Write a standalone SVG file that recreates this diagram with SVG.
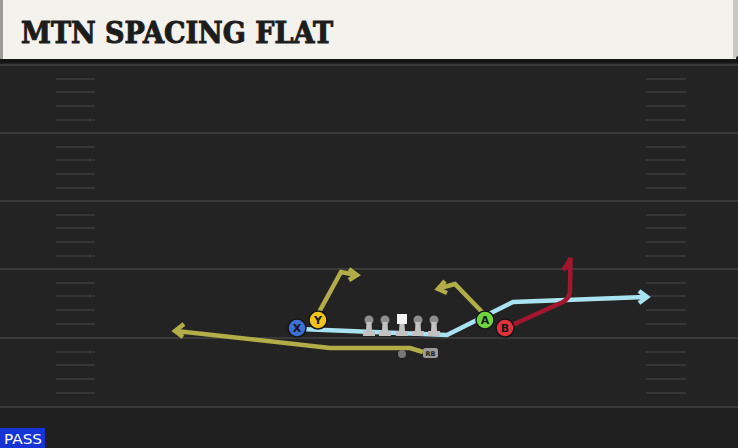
<svg xmlns="http://www.w3.org/2000/svg" width="738" height="448" viewBox="0 0 738 448">
<style>
.yd{stroke:#393939;stroke-width:2}
.hs{stroke:#363636;stroke-width:2}
.rt{fill:none;stroke-width:4.5;stroke-linejoin:miter;stroke-linecap:butt}
.ol{stroke:#b2ad48}
.lb{stroke:#a9e2f0}
.rd{stroke:#a2172f}
.pc{stroke:#161616;stroke-width:1.5}
.pl{font-family:"DejaVu Sans",sans-serif;font-weight:bold;font-size:11px;fill:#161616;text-anchor:middle}
.head{fill:#8e8e8e}
.body{fill:#c2c2c2}
</style>
<rect x="0" y="0" width="738" height="448" fill="#232323"/>
<rect x="0" y="408" width="738" height="40" fill="#202020"/>
<g id="field">
<line class="yd" x1="0" y1="65" x2="738" y2="65"/>
<line class="yd" x1="0" y1="133" x2="738" y2="133"/>
<line class="yd" x1="0" y1="201" x2="738" y2="201"/>
<line class="yd" x1="0" y1="269" x2="738" y2="269"/>
<line class="yd" x1="0" y1="338" x2="738" y2="338"/>
<line class="yd" x1="0" y1="407" x2="738" y2="407"/>
<g class="hs">
<line x1="56" y1="79" x2="95" y2="79"/><line x1="56" y1="92" x2="95" y2="92"/><line x1="56" y1="106" x2="95" y2="106"/><line x1="56" y1="120" x2="95" y2="120"/>
<line x1="56" y1="147" x2="95" y2="147"/><line x1="56" y1="160" x2="95" y2="160"/><line x1="56" y1="174" x2="95" y2="174"/><line x1="56" y1="188" x2="95" y2="188"/>
<line x1="56" y1="215" x2="95" y2="215"/><line x1="56" y1="228" x2="95" y2="228"/><line x1="56" y1="242" x2="95" y2="242"/><line x1="56" y1="256" x2="95" y2="256"/>
<line x1="56" y1="283" x2="95" y2="283"/><line x1="56" y1="296" x2="95" y2="296"/><line x1="56" y1="310" x2="95" y2="310"/><line x1="56" y1="324" x2="95" y2="324"/>
<line x1="56" y1="352" x2="95" y2="352"/><line x1="56" y1="365" x2="95" y2="365"/><line x1="56" y1="379" x2="95" y2="379"/><line x1="56" y1="393" x2="95" y2="393"/>
<line x1="646" y1="79" x2="686" y2="79"/><line x1="646" y1="92" x2="686" y2="92"/><line x1="646" y1="106" x2="686" y2="106"/><line x1="646" y1="120" x2="686" y2="120"/>
<line x1="646" y1="147" x2="686" y2="147"/><line x1="646" y1="160" x2="686" y2="160"/><line x1="646" y1="174" x2="686" y2="174"/><line x1="646" y1="188" x2="686" y2="188"/>
<line x1="646" y1="215" x2="686" y2="215"/><line x1="646" y1="228" x2="686" y2="228"/><line x1="646" y1="242" x2="686" y2="242"/><line x1="646" y1="256" x2="686" y2="256"/>
<line x1="646" y1="283" x2="686" y2="283"/><line x1="646" y1="296" x2="686" y2="296"/><line x1="646" y1="310" x2="686" y2="310"/><line x1="646" y1="324" x2="686" y2="324"/>
<line x1="646" y1="352" x2="686" y2="352"/><line x1="646" y1="365" x2="686" y2="365"/><line x1="646" y1="379" x2="686" y2="379"/><line x1="646" y1="393" x2="686" y2="393"/>
</g>
</g>
<g id="header">
<rect x="0" y="0" width="736" height="59" fill="#f4f2ec"/>
<rect x="0" y="0" width="3" height="59" fill="#9c9c9a"/>
<path d="M733 0 L738 0 L738 56 L733 59 Z" fill="#c9c7c1"/>
<rect x="0" y="59" width="738" height="4" fill="#161616"/>
<text x="21" y="43" font-family="'DejaVu Serif',serif" font-weight="bold" font-size="29" fill="#1c1c1c" stroke="#1c1c1c" stroke-width="1" textLength="312" lengthAdjust="spacingAndGlyphs">MTN SPACING FLAT</text>
</g>
<g id="connectors">
<path class="rt ol" d="M423 352 L410 348 L330 348 L176 331"/>
<path class="rt ol" d="M184 324 L175 331 L183 337"/>
<path class="rt lb" d="M300 329 L447 335 L513 302 L645 297"/>
<path class="rt lb" d="M639 291 L647 297 L639 303"/>
<path class="rt ol" d="M318 314 L341 272 L356 275"/>
<path class="rt ol" d="M349 269 L357 275 L349 280"/>
<path class="rt ol" d="M484 314 L455 284 L440 288"/>
<path class="rt ol" d="M445 281 L438 289 L447 293"/>
<path class="rt rd" d="M510 326 L563 302 Q570 298 570 290 L570.5 258 Q567 266 563 270"/>
</g>
<g id="oline">
<circle class="head" cx="369" cy="320" r="4.5"/><path class="body" d="M366.5 322 H371.5 L372 331 H375 V336 H363 V331 H366 Z"/>
<circle class="head" cx="385" cy="320" r="4.5"/><path class="body" d="M382.5 322 H387.5 L388 331 H391 V336 H379 V331 H382 Z"/>
<rect x="397" y="314" width="10" height="10" fill="#f2f2f2"/><path class="body" d="M399.5 324 H404.5 L405 331 H408 V336 H396 V331 H399 Z"/>
<circle class="head" cx="418" cy="320" r="4.5"/><path class="body" d="M415.5 322 H420.5 L421 331 H424 V336 H412 V331 H415 Z"/>
<circle class="head" cx="434" cy="320" r="4.5"/><path class="body" d="M431.5 322 H436.5 L437 331 H440 V336 H428 V331 H431 Z"/>
</g>
<g id="rb">
<circle cx="402" cy="354" r="4" fill="#777"/>
<rect x="423" y="348" width="15" height="10" rx="2.5" fill="#9a9a9a"/>
<text x="430.5" y="356" font-family="'DejaVu Sans',sans-serif" font-weight="bold" font-size="6.5" fill="#222" text-anchor="middle">RB</text>
</g>
<g id="X"><circle class="pc" cx="297" cy="328" r="9" fill="#3d6fd6"/><text class="pl" x="297" y="332">X</text></g>
<g id="Y"><circle class="pc" cx="318" cy="320" r="9" fill="#f2c21c"/><text class="pl" x="318" y="324">Y</text></g>
<g id="A"><circle class="pc" cx="485" cy="320" r="9" fill="#6fd43e"/><text class="pl" x="485" y="324">A</text></g>
<g id="B"><circle class="pc" cx="505" cy="328" r="9" fill="#e0323c"/><text class="pl" x="505" y="332">B</text></g>
<g id="pass">
<rect x="0" y="428" width="45" height="20" fill="#1634d6"/>
<text x="4" y="444" font-family="'DejaVu Sans',sans-serif" font-size="14" fill="#ffffff" textLength="38" lengthAdjust="spacingAndGlyphs">PASS</text>
</g>
</svg>
